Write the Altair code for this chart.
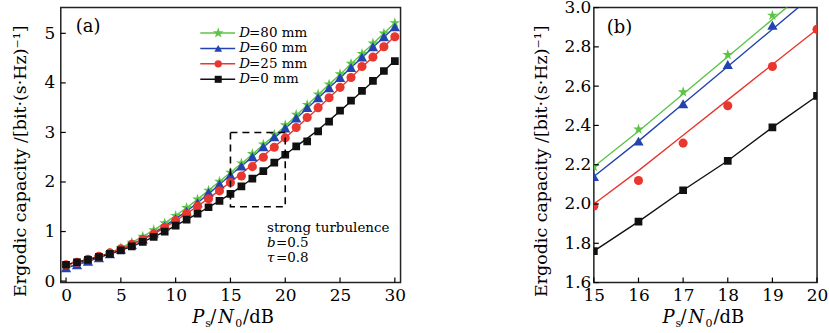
import altair as alt
import pandas as pd

# ---------------- data ----------------
x_db = list(range(31))
series = ["D=80 mm", "D=60 mm", "D=25 mm", "D=0 mm"]
colors = ["#5cc447", "#2243b0", "#e8372f", "#111111"]
STAR = "M0,-1L0.2245,-0.309L0.951,-0.309L0.363,0.118L0.588,0.809L0,0.382L-0.588,0.809L-0.363,0.118L-0.951,-0.309L-0.2245,-0.309Z"
shapes = [STAR, "triangle-up", "circle", "square"]
marker_sizes = [130, 60, 55, 50]

d80_theory = [0.27,0.33,0.40,0.48,0.57,0.67,0.78,0.90,1.03,1.17,1.32,1.48,1.65,1.83,2.01,2.19,2.37,2.56,2.75,2.94,3.13,3.34,3.55,3.76,3.97,4.17,4.38,4.59,4.79,5.00,5.21]
d80_sim    = [0.27,0.33,0.40,0.48,0.57,0.67,0.78,0.90,1.03,1.17,1.32,1.48,1.65,1.83,2.01,2.19,2.38,2.57,2.76,2.96,3.15,3.36,3.56,3.77,3.97,4.18,4.39,4.59,4.80,5.00,5.21]
d60_theory = [0.27,0.33,0.40,0.47,0.55,0.64,0.74,0.85,0.97,1.11,1.26,1.41,1.58,1.76,1.95,2.14,2.32,2.51,2.70,2.89,3.08,3.28,3.49,3.69,3.90,4.10,4.31,4.51,4.72,4.92,5.13]
d60_sim    = [0.27,0.33,0.40,0.47,0.55,0.64,0.74,0.85,0.97,1.11,1.26,1.41,1.58,1.79,1.96,2.14,2.32,2.51,2.71,2.91,3.09,3.29,3.50,3.70,3.90,4.11,4.31,4.52,4.73,4.93,5.13]
d25_theory = [0.33,0.38,0.44,0.50,0.57,0.65,0.74,0.84,0.95,1.08,1.22,1.36,1.51,1.67,1.83,2.00,2.17,2.35,2.53,2.71,2.89,3.09,3.29,3.49,3.70,3.90,4.11,4.32,4.52,4.73,4.94]
d25_sim    = [0.33,0.38,0.44,0.50,0.57,0.65,0.74,0.84,0.95,1.08,1.22,1.36,1.51,1.66,1.82,1.99,2.12,2.31,2.50,2.70,2.89,3.10,3.30,3.50,3.70,3.91,4.11,4.33,4.52,4.73,4.93]
d0_theory  = [0.33,0.38,0.43,0.49,0.55,0.62,0.70,0.79,0.89,1.00,1.12,1.24,1.36,1.49,1.62,1.76,1.91,2.07,2.22,2.39,2.55,2.72,2.88,3.05,3.24,3.43,3.63,3.83,4.03,4.24,4.45]
d0_sim     = [0.33,0.38,0.43,0.49,0.55,0.62,0.70,0.79,0.89,1.00,1.12,1.24,1.36,1.49,1.62,1.76,1.91,2.07,2.22,2.39,2.55,2.72,2.82,3.02,3.22,3.44,3.64,3.84,4.04,4.24,4.44]

xticks_a = [0, 5, 10, 15, 20, 25, 30]
yticks_a = [0, 1, 2, 3, 4, 5]
xticks_b = [15, 16, 17, 18, 19, 20]
yticks_b = [1.6, 1.8, 2.0, 2.2, 2.4, 2.6, 2.8, 3.0]
zoom_x = [15, 20]
zoom_y = [1.5, 3.0]
notes = ["strong turbulence", "=0.5", "=0.8"]
note_syms = ["b", "τ"]
y_title = "Ergodic capacity /[bit·(s·Hz)⁻¹]"

theory = {"D=80 mm": d80_theory, "D=60 mm": d60_theory, "D=25 mm": d25_theory, "D=0 mm": d0_theory}
sim = {"D=80 mm": d80_sim, "D=60 mm": d60_sim, "D=25 mm": d25_sim, "D=0 mm": d0_sim}

rows_t, rows_s = [], []
for s in series:
    for x, v in zip(x_db, theory[s]):
        rows_t.append({"x": x, "value": v, "series": s})
    for x, v in zip(x_db, sim[s]):
        rows_s.append({"x": x, "value": v, "series": s})
df_t = pd.DataFrame(rows_t)
df_s = pd.DataFrame(rows_s)

FONT = "DejaVu Serif"
color_scale = alt.Scale(domain=series, range=colors)
shape_scale = alt.Scale(domain=series, range=shapes)
size_scale = alt.Scale(domain=series, range=marker_sizes)
one = alt.Data(values=[{"a": 1}])


def txt(s, x, y, size, style="normal", align="left", baseline="alphabetic"):
    return alt.Chart(one).mark_text(
        font=FONT, fontSize=size, fontStyle=style, align=align, baseline=baseline, color="black"
    ).encode(x=alt.value(x), y=alt.value(y), text=alt.value(s))


def xtitle(x0, y0):
    parts = [("P", 0, 0, 18, "italic"), ("s", 13, 4, 11, "normal"), ("/", 18, 0, 18, "normal"),
             ("N", 26, 0, 18, "italic"), ("0", 43, 4, 11, "normal"), ("/dB", 51, 0, 18, "normal")]
    return [txt(p, x0 + dx, y0 + dy, sz, st) for p, dx, dy, sz, st in parts]


def panel(xdom, ydom, W, H, xticks, yticks, yfmt, xlo, xhi, ytitle_pad, ylab_pad):
    xs = alt.Scale(domain=xdom, nice=False, zero=False)
    ys = alt.Scale(domain=ydom, nice=False, zero=False)
    t = df_t[(df_t.x >= xlo) & (df_t.x <= xhi)]
    s = df_s[(df_s.x >= xlo) & (df_s.x <= xhi)]
    xa = alt.Axis(values=xticks, ticks=False, tickSize=0, domain=False, grid=False, title=None,
                  labelFont=FONT, labelFontSize=17, labelPadding=5, labelColor="black", labelFlush=False)
    ya = alt.Axis(values=yticks, ticks=False, tickSize=0, domain=False, grid=False, format=yfmt,
                  title=y_title, titleFont=FONT, titleFontSize=17.5,
                  titleFontWeight="normal", titleColor="black", titlePadding=ytitle_pad,
                  titleAnchor="start", titleAlign="left", titleY=290,
                  labelFont=FONT, labelFontSize=17, labelPadding=ylab_pad, labelColor="black", labelFlush=False)
    lines = alt.Chart(t).mark_line(strokeWidth=1.4, clip=True).encode(
        x=alt.X("x:Q", scale=xs, axis=xa),
        y=alt.Y("value:Q", scale=ys, axis=ya),
        color=alt.Color("series:N", scale=color_scale, legend=None),
        detail="series:N",
    )
    pts = alt.Chart(s).mark_point(filled=True, opacity=1, clip=True).encode(
        x=alt.X("x:Q", scale=xs, axis=xa),
        y=alt.Y("value:Q", scale=ys, axis=ya),
        color=alt.Color("series:N", scale=color_scale, legend=None),
        shape=alt.Shape("series:N", scale=shape_scale, legend=None),
        size=alt.Size("series:N", scale=size_scale, legend=None),
    )
    xt = alt.Chart(pd.DataFrame({"x": xticks})).mark_rule(color="black", strokeWidth=1.2).encode(
        x=alt.X("x:Q", scale=xs, axis=xa), y=alt.value(H - 5), y2=alt.value(H))
    yt = alt.Chart(pd.DataFrame({"value": yticks})).mark_rule(color="black", strokeWidth=1.2).encode(
        y=alt.Y("value:Q", scale=ys, axis=ya), x=alt.value(0), x2=alt.value(5))
    return xs, ys, xa, ya, [lines, pts, xt, yt]


# ---------------- panel (a) ----------------
WA, HA = 341, 276
xs_a, ys_a, xa_a, ya_a, layers_a = panel([-0.48, 30.52], [-0.03, 5.52], WA, HA, xticks_a, yticks_a, "d", 0, 30, 15, 6)
rect = alt.Chart(pd.DataFrame({"x": [zoom_x[0]], "x2": [zoom_x[1]], "value": [zoom_y[0]], "value2": [zoom_y[1]]})).mark_rect(
    fill=None, fillOpacity=0, stroke="black", strokeWidth=1.6, strokeDash=[7, 5]
).encode(x=alt.X("x:Q", scale=xs_a, axis=xa_a), x2="x2:Q",
         y=alt.Y("value:Q", scale=ys_a, axis=ya_a), y2="value2:Q")
layers_a.append(rect)

# legend (drawn inside panel a)
leg_y = [25.5, 41, 56.5, 72]
for s_name, c, shp, msz, ly in zip(series, colors, shapes, marker_sizes, leg_y):
    layers_a.append(alt.Chart(one).mark_rule(color=c, strokeWidth=1.5).encode(
        x=alt.value(140), x2=alt.value(175), y=alt.value(ly)))
    layers_a.append(alt.Chart(one).mark_point(filled=True, opacity=1, color=c, shape=shp, size=msz).encode(
        x=alt.value(158), y=alt.value(ly)))
    layers_a.append(txt("D", 179, ly, 13.5, "italic", baseline="middle"))
    layers_a.append(txt(s_name[1:], 189, ly, 13.5, baseline="middle"))

layers_a.append(txt("(a)", 15, 25, 18))
layers_a.append(txt(notes[0], 207, 225, 13.5))
layers_a.append(txt(note_syms[0], 207, 240, 13.5, "italic"))
layers_a.append(txt(notes[1], 216, 240, 13.5))
layers_a.append(txt(note_syms[1], 207, 255, 13.5, "italic"))
layers_a.append(txt(notes[2], 216, 255, 13.5))
layers_a += xtitle(132, 317)

pa = alt.layer(*layers_a).properties(width=WA, height=HA)

# ---------------- panel (b) ----------------
WB, HB = 224, 276
xs_b, ys_b, xa_b, ya_b, layers_b = panel([15, 20], [1.6, 3.0], WB, HB, xticks_b, yticks_b, ".1f", 15, 20, 13, 3)
layers_b.append(txt("(b)", 13, 26, 18))
layers_b += xtitle(69, 317)
pb = alt.layer(*layers_b).properties(width=WB, height=HB)

chart = alt.hconcat(pa, pb, spacing=194, bounds="flush").properties(
    padding={"left": 10, "top": -3, "right": 0, "bottom": 0},
    background="white",
).configure_view(stroke="#222222", strokeWidth=1.5)

chart.save("out.html", embed_options={"renderer": "svg", "actions": False})
